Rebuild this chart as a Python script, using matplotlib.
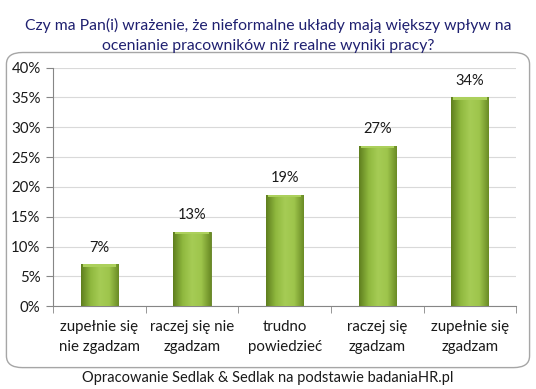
import numpy as np
import matplotlib
matplotlib.use("Agg")
import matplotlib.pyplot as plt
from matplotlib.patches import FancyBboxPatch
from matplotlib.colors import LinearSegmentedColormap

plt.rcParams['font.family'] = ['Lato', 'DejaVu Sans']

title = "Czy ma Pan(i) wrażenie, że nieformalne układy mają większy wpływ na\nocenianie pracowników niż realne wyniki pracy?"
categories = ["zupełnie się\nnie zgadzam", "raczej się nie\nzgadzam", "trudno\npowiedzieć",
              "raczej się\nzgadzam", "zupełnie się\nzgadzam"]
values = [7.0, 12.5, 18.7, 26.9, 35.0]
value_labels = ["7%", "13%", "19%", "27%", "34%"]
y_ticks = [0, 5, 10, 15, 20, 25, 30, 35, 40]
footer = "Opracowanie Sedlak & Sedlak na podstawie badaniaHR.pl"

fig = plt.figure(figsize=(5.36, 3.89), dpi=100)
ax = fig.add_axes([0.099, 0.213, 0.864, 0.613])

# outer rounded frame
frame = FancyBboxPatch((0.012, 0.055), 0.976, 0.81, boxstyle="round,pad=0,rounding_size=0.03",
                       transform=fig.transFigure, facecolor="white", edgecolor="#a6a6a6",
                       linewidth=1.0, zorder=-1)
fig.patches.append(frame)

x = np.arange(len(categories))
bars = ax.bar(x, values, width=0.4, color="#8db43c", edgecolor="#5f7d20", linewidth=0.6, zorder=3)

# horizontal shading on the bars
cmap = LinearSegmentedColormap.from_list("g", ["#5f7f1f", "#8fb83e", "#a6cc55", "#9ec54c", "#6b8c26"])
grad = np.linspace(0, 1, 64).reshape(1, -1)
for b in bars:
    x0, w, h = b.get_x(), b.get_width(), b.get_height()
    im = ax.imshow(grad, cmap=cmap, aspect="auto", extent=[x0, x0 + w, 0, h], zorder=3.5)
    im.set_clip_path(b)
    # soft bevel on the top
    ax.fill_between([x0 + 0.02, x0 + w - 0.02], h - 0.45, h, color="#acd05c", zorder=3.6, linewidth=0)

for b, lab in zip(bars, value_labels):
    ax.text(b.get_x() + b.get_width() / 2, b.get_height() + 1.6, lab, ha="center", va="bottom",
            fontsize=10.5, color="#1a1a1a")

ax.set_xlim(-0.5, len(categories) - 0.5)
ax.set_ylim(0, 40)
ax.set_yticks(y_ticks)
ax.set_yticklabels([f"{t}%" for t in y_ticks], fontsize=10.8, color="#1a1a1a")
ax.set_xticks(x)
ax.set_xticklabels(categories, fontsize=10.8, color="#1a1a1a", linespacing=1.55)
ax.tick_params(axis="x", length=0, pad=10)
ax.set_xticks(np.arange(-0.5, len(categories)), minor=True)
ax.tick_params(axis="x", which="minor", length=5, color="#868686")
ax.tick_params(axis="y", length=5, color="#868686", pad=4)

ax.grid(axis="y", color="#d9d9d9", linewidth=0.8, zorder=0)
for s in ["top", "right"]:
    ax.spines[s].set_visible(False)
ax.spines["left"].set_color("#868686")
ax.spines["bottom"].set_color("#868686")

fig.text(0.5, 0.955, title, ha="center", va="top", fontsize=11.3, color="#1f2070", linespacing=1.6)
fig.text(0.5, 0.028, footer, ha="center", va="center", fontsize=10.5, color="#1a1a1a")

fig.savefig("out.png", dpi=100)
